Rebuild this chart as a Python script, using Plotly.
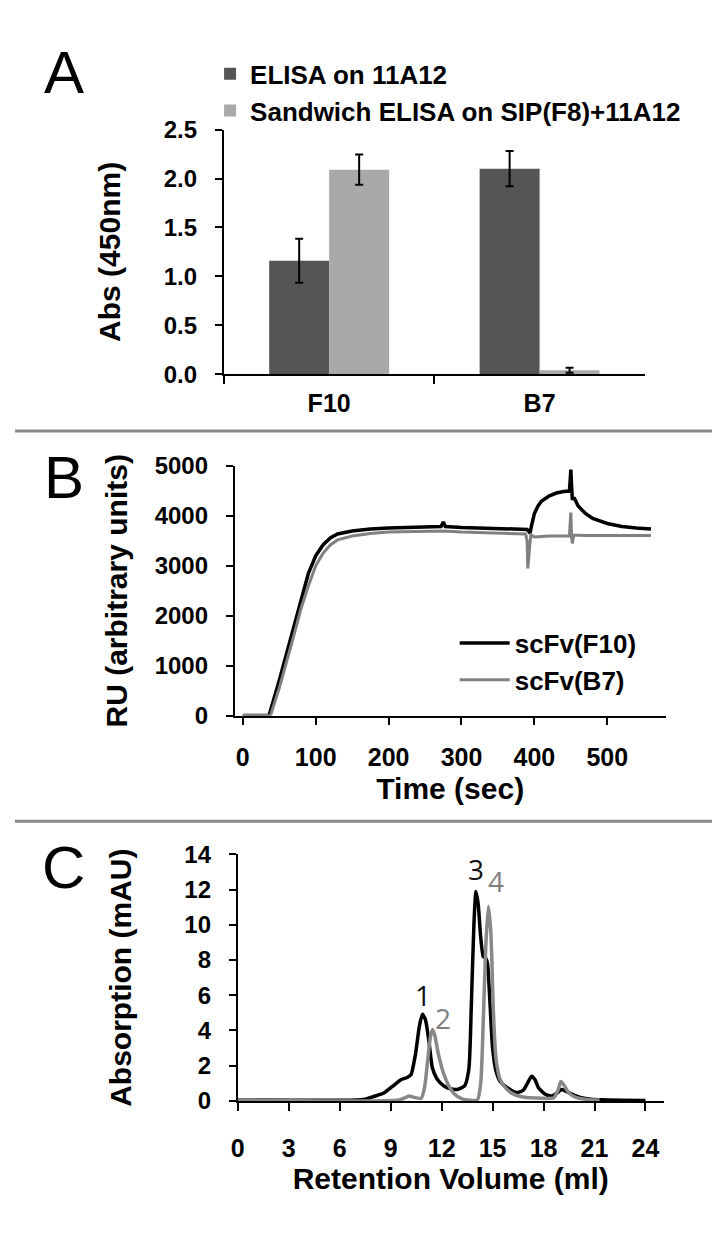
import plotly.graph_objects as go

W, H = 720, 1237

def py(p):
    return 1 - p / H

def px(p):
    return p / W

# ---------------- Panel A data ----------------
categories = ["F10", "B7"]
elisa_vals = [1.16, 2.10]
elisa_err = [0.225, 0.18]
sandwich_vals = [2.09, 0.04]
sandwich_err = [0.155, 0.025]

# ---------------- Panel B data (SPR sensorgram) ----------------
time_f10 = [0, 36, 50, 60, 70, 80, 90, 100, 110, 120, 130, 150, 175, 200, 250, 272, 275, 278,
            300, 350, 390, 392, 394, 396, 400, 405, 410, 420, 430, 440, 448, 449, 450, 451,
            452, 455, 460, 470, 480, 500, 520, 540, 560]
ru_f10 = [0, 0, 700, 1250, 1800, 2350, 2850, 3200, 3420, 3560, 3640, 3700, 3740, 3760, 3780, 3790, 3880, 3790,
          3770, 3750, 3730, 3700, 3650, 3800, 4050, 4200, 4300, 4400, 4460, 4490, 4500, 4700, 4930, 4600,
          4350, 4350, 4200, 4050, 3950, 3850, 3790, 3760, 3740]

time_b7 = [0, 38, 50, 60, 70, 80, 90, 100, 110, 120, 130, 150, 175, 200, 250, 275, 300, 350, 388,
           390, 391, 393, 395, 400, 420, 448, 449, 450, 451, 452, 454, 470, 560]
ru_b7 = [0, 0, 550, 1050, 1600, 2150, 2600, 3000, 3250, 3420, 3520, 3600, 3650, 3680, 3700, 3700, 3680, 3660, 3640,
         3500, 2950, 3300, 3620, 3580, 3600, 3600, 3850, 4070, 3600, 3450, 3620, 3610, 3610]

# ---------------- Panel C data (size exclusion chromatography) ----------------
vol_f10 = [0, 7.0, 7.5, 8.0, 8.6, 9.2, 9.6, 10.0, 10.2, 10.45, 10.7, 10.87, 11.05, 11.25, 11.45, 11.7, 11.9,
           12.3, 12.9, 13.35, 13.6, 13.75, 13.9, 14.02, 14.15, 14.3, 14.45, 14.6, 14.7, 14.85, 15.0, 15.2,
           15.45, 15.8, 16.4, 16.8, 17.05, 17.3, 17.5, 17.7, 18.1, 18.5, 18.8, 19.05, 19.3, 19.6, 20.1,
           20.8, 21.5, 24.0]
abs_f10 = [0.05, 0.05, 0.1, 0.25, 0.45, 0.9, 1.2, 1.35, 1.5, 2.6, 4.3, 4.93, 4.6, 3.4, 1.9, 1.3, 1.05,
           0.75, 0.65, 0.85, 1.8, 5.5, 10.0, 11.9, 11.2, 9.3, 8.2, 8.1, 7.8, 5.5, 3.0, 1.7,
           1.1, 0.8, 0.48, 0.6, 1.0, 1.4, 1.2, 0.75, 0.38, 0.28, 0.45, 0.65, 0.55, 0.42, 0.22,
           0.1, 0.06, 0.02]

vol_b7 = [0, 9.5, 9.9, 10.1, 10.4, 10.8, 11.0, 11.2, 11.35, 11.47, 11.6, 11.8, 12.1, 12.4, 12.75, 13.2,
          13.6, 14.1, 14.3, 14.45, 14.6, 14.75, 14.9, 15.05, 15.2, 15.45, 15.8, 16.2, 16.8, 17.9, 18.6,
          18.85, 19.02, 19.2, 19.45, 19.9, 20.6, 21.3]
abs_b7 = [0.05, 0.05, 0.2, 0.28, 0.2, 0.15, 0.8, 2.5, 3.7, 4.05, 3.7, 2.7, 1.6, 0.9, 0.4, 0.12,
          0.05, 0.05, 1.0, 4.5, 8.8, 11.05, 9.5, 5.0, 2.4, 1.2, 0.7, 0.4, 0.22, 0.15, 0.18,
          0.6, 1.1, 0.9, 0.5, 0.2, 0.08, 0.05]

peak_labels = ["1", "2", "3", "4"]
peak_x = [10.9, 12.1, 14.05, 15.2]
peak_y = [6.0, 4.7, 13.2, 12.5]
peak_colors = ["#111111", "#7f7f7f", "#111111", "#7f7f7f"]

FONT = "Liberation Sans"
DARK = "#555555"
LIGHT = "#a9a9a9"

fig = go.Figure()

# Panel A bars
fig.add_trace(go.Bar(
    x=categories, y=elisa_vals, name="ELISA on 11A12", marker=dict(color=DARK, line=dict(width=0)),
    error_y=dict(type="data", array=elisa_err, color="black", thickness=2, width=4),
    xaxis="x", yaxis="y", legend="legend"))
fig.add_trace(go.Bar(
    x=categories, y=sandwich_vals, name="Sandwich ELISA on SIP(F8)+11A12",
    marker=dict(color=LIGHT, line=dict(width=0)),
    error_y=dict(type="data", array=sandwich_err, color="black", thickness=2, width=4),
    xaxis="x", yaxis="y", legend="legend"))

# Panel B lines
fig.add_trace(go.Scatter(x=time_f10, y=ru_f10, mode="lines", name="scFv(F10)",
                         line=dict(color="black", width=3.5), xaxis="x2", yaxis="y2", legend="legend2"))
fig.add_trace(go.Scatter(x=time_b7, y=ru_b7, mode="lines", name="scFv(B7)",
                         line=dict(color="#808080", width=3), xaxis="x2", yaxis="y2", legend="legend2"))

# Panel C lines
fig.add_trace(go.Scatter(x=vol_f10, y=abs_f10, mode="lines", showlegend=False,
                         line=dict(color="black", width=3.5, shape="spline", smoothing=0.6),
                         xaxis="x3", yaxis="y3"))
fig.add_trace(go.Scatter(x=vol_b7, y=abs_b7, mode="lines", showlegend=False,
                         line=dict(color="#888888", width=3.5, shape="spline", smoothing=0.6),
                         xaxis="x3", yaxis="y3"))

ytickfont = dict(family=FONT, size=24, color="black", weight="bold")
xtickfont = dict(family=FONT, size=25, color="black", weight="bold")
titlefont = dict(family=FONT, size=30, color="black", weight="bold")

base = dict(showline=True, linecolor="black", linewidth=2, ticks="outside", tickcolor="black",
            tickwidth=2, showgrid=False, zeroline=False)

fig.update_layout(
    width=W, height=H, margin=dict(l=0, r=0, t=0, b=0),
    paper_bgcolor="white", plot_bgcolor="white",
    barmode="group", bargap=0.43, bargroupgap=0,
    xaxis=dict(domain=[px(211), px(636)], anchor="y", tickson="boundaries", ticklen=8,
               tickfont=xtickfont, ticklabelstandoff=6, **base),
    yaxis=dict(domain=[py(360), py(110)], anchor="x", range=[0, 2.5], tickvals=[0, 0.5, 1.0, 1.5, 2.0, 2.5],
               tickformat=".1f", ticklen=7, tickfont=ytickfont, ticklabelstandoff=13,
               title=dict(text="Abs (450nm)", font=titlefont, standoff=34), **base),
    xaxis2=dict(domain=[px(222), px(657)], anchor="y2", range=[-10.9, 580], tickvals=[0, 100, 200, 300, 400, 500],
                ticklen=7, tickfont=xtickfont, ticklabelstandoff=11,
                title=dict(text="Time (sec)", font=titlefont, standoff=8), **base),
    yaxis2=dict(domain=[py(709), py(454)], anchor="x2", range=[0, 5000], tickvals=[0, 1000, 2000, 3000, 4000, 5000],
                ticklen=7, tickfont=ytickfont, ticklabelstandoff=13,
                title=dict(text="RU (arbitrary units)", font=titlefont, standoff=18), **base),
    xaxis3=dict(domain=[px(225), px(655)], anchor="y3", range=[0, 25.07], tickvals=list(range(0, 25, 3)),
                ticklen=8, tickfont=xtickfont, ticklabelstandoff=16,
                title=dict(text="Retention Volume (ml)", font=titlefont, standoff=6), **base),
    yaxis3=dict(domain=[py(1103), py(851)], anchor="x3", range=[0, 14], tickvals=list(range(0, 15, 2)),
                ticklen=7, tickfont=ytickfont, ticklabelstandoff=13,
                title=dict(text="Absorption (mAU)", font=titlefont, standoff=44), **base),
    legend=dict(x=px(197), y=py(29), xanchor="left", yanchor="top", bgcolor="rgba(0,0,0,0)",
                font=dict(family=FONT, size=26, color="black", weight="bold"), traceorder="normal"),
    legend2=dict(x=px(444), y=py(611), xanchor="left", yanchor="top", bgcolor="rgba(0,0,0,0)",
                 itemwidth=50,
                 font=dict(family=FONT, size=26, color="black", weight="bold"), traceorder="normal"),
    showlegend=True,
)

# separators between panels
for yy in (418, 817):
    fig.add_shape(type="line", xref="paper", yref="paper", x0=0, x1=1, y0=py(yy), y1=py(yy),
                  line=dict(color="#8a8a8a", width=3))

# panel letters
for letter, yy in (("A", 52), ("B", 466), ("C", 864)):
    fig.add_annotation(text=letter, xref="paper", yref="paper", x=px(49), y=py(yy), showarrow=False,
                       xanchor="center", yanchor="middle",
                       font=dict(family=FONT, size=60, color="black"))

# peak labels
for lab, xx, yy, cc in zip(peak_labels, peak_x, peak_y, peak_colors):
    fig.add_annotation(text=lab, x=xx, y=yy, xref="x3", yref="y3", showarrow=False,
                       font=dict(family="Open Sans", size=28, color=cc))

fig.write_html("out.html")
